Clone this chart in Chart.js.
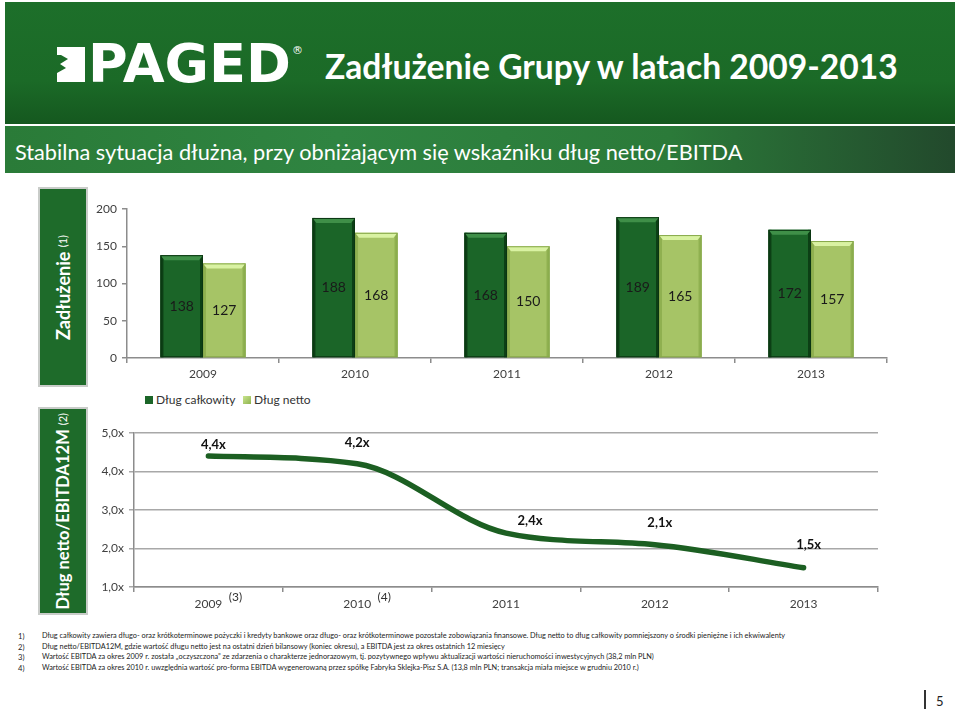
<!DOCTYPE html>
<html>
<head>
<meta charset="utf-8">
<script src="https://cdn.jsdelivr.net/npm/chart.js@4.4.0/dist/chart.umd.min.js"></script>
<style>
  body { margin:0; width:960px; height:711px; position:relative; background:#fff; overflow:hidden; font-family:Lato, "Open Sans", sans-serif; }
  .abs { position:absolute; white-space:nowrap; }
  #head { left:5px; top:2px; width:950px; height:122px; background:linear-gradient(180deg,#1d6f2a 0%,#1b6a27 65%,#15581f 100%); }
  #sub { left:5px; top:126px; width:950px; height:47px; background:linear-gradient(90deg,#2a7b38 0%,#2f8441 35%,#2b7a39 70%,#22492c 100%); }
  #title { left:325px; top:46px; color:#fff; font-weight:bold; font-size:31px; line-height:40px; }
  #subtitle { left:15px; top:138px; color:#fff; font-size:21px; line-height:28px; }
  #logo { left:88px; top:39px; color:#fff; font-family:"DejaVu Sans"; font-weight:bold; font-size:48px; line-height:50px; }
  .side { position:absolute; left:38px; width:46px; background:#1e6b2a; border:2px solid #c9ccc9; display:flex; align-items:center; justify-content:center; }
  .side span { writing-mode:vertical-rl; transform:rotate(180deg); color:#fff; font-weight:bold; white-space:nowrap; }
  .side small { font-size:11px; font-weight:normal; }
  .leg { top:392px; font-size:12px; color:#333; line-height:16px; }
  .leg i { display:inline-block; width:8px; height:8px; margin-right:3px; vertical-align:0; }
  .note { font-size:7.6px; color:#222; line-height:10.6px; }
  canvas { position:absolute; }
</style>
</head>
<body>
<div id="head" class="abs"></div>
<div id="sub" class="abs"></div>
<svg class="abs" style="left:57px;top:47px" width="29" height="35">
  <polygon points="0,0 28,0 28,35 0,35 0,26 9,21 3,17 11,12 4,8 0,8" fill="#fff"/>
</svg>
<div id="logo" class="abs" data-w="203">PAGED</div>
<div class="abs" style="left:292px;top:44px;color:#fff;font-size:11px;font-family:'DejaVu Sans'">®</div>
<div id="title" class="abs" data-w="573">Zadłużenie Grupy w latach 2009-2013</div>
<div id="subtitle" class="abs" data-w="728">Stabilna sytuacja dłużna, przy obniżającym się wskaźniku dług netto/EBITDA</div>

<div class="side" style="top:187px;height:196px"><span style="font-size:18px">Zadłużenie <small>(1)</small></span></div>
<div class="side" style="top:407px;height:204px"><span style="font-size:16.5px">Dług netto/EBITDA12M <small>(2)</small></span></div>

<canvas id="bars" width="840" height="190" style="left:60px;top:195px"></canvas>
<div class="abs leg" style="left:145px"><i style="background:#1b6528"></i>Dług całkowity</div>
<div class="abs leg" style="left:243px"><i style="background:linear-gradient(135deg,#c9e58e,#8fb34f)"></i>Dług netto</div>
<canvas id="ratio" width="840" height="200" style="left:60px;top:415px"></canvas>

<div class="abs note" style="left:18px;top:631px">1)<br>2)<br>3)<br>4)</div>
<div id="notes" class="abs note" style="left:42px;top:631px">
  <div id="note1">Dług całkowity zawiera długo- oraz krótkoterminowe pożyczki i kredyty bankowe oraz długo- oraz krótkoterminowe pozostałe zobowiązania finansowe. Dług netto to dług całkowity pomniejszony o środki pieniężne i ich ekwiwalenty</div>
  <div>Dług netto/EBITDA12M, gdzie wartość długu netto jest na ostatni dzień bilansowy (koniec okresu), a EBITDA jest za okres ostatnich 12 miesięcy</div>
  <div>Wartość EBITDA za okres 2009 r. została „oczyszczona” ze zdarzenia o charakterze jednorazowym, tj. pozytywnego wpływu aktualizacji wartości nieruchomości inwestycyjnych (38,2 mln PLN)</div>
  <div>Wartość EBITDA za okres 2010 r. uwzględnia wartość pro-forma EBITDA wygenerowaną przez spółkę Fabryka Sklejka-Pisz S.A. (13,8 mln PLN; transakcja miała miejsce w grudniu 2010 r.)</div>
</div>
<div class="abs" style="left:924px;top:690px;width:2px;height:19px;background:#333"></div>
<div class="abs" style="left:936px;top:693px;font-size:13px;color:#222">5</div>

<script>
const years = ['2009', '2010', '2011', '2012', '2013']
const totalDebt = [138, 188, 168, 189, 172]
const netDebt = [127, 168, 150, 165, 157]
const debtTicks = [0, 50, 100, 150, 200]
const ratio = [4.4, 4.2, 2.4, 2.1, 1.5]
const ratioTicks = [1, 2, 3, 4, 5]
const yearNotes = ['(3)', '(4)', '', '', '']

// label nudges for the ratio values, in px
const ratioLabelNudge = [[5, -11], [0, -21], [24, -12], [5, -22], [5, -23]]

// shrink/grow text so it spans the same width as on the slide
function fitWidth(el, w) {
  el.style.display = 'inline-block'
  const cur = el.getBoundingClientRect().width
  const fs = parseFloat(getComputedStyle(el).fontSize)
  return fs * w / cur
}
document.querySelectorAll('[data-w]').forEach(el => {
  el.style.fontSize = fitWidth(el, +el.dataset.w) + 'px'
})
const n1 = document.getElementById('note1')
document.getElementById('notes').style.fontSize = fitWidth(n1, 743) + 'px'
n1.style.display = 'block'

const tickFont = { family: 'Lato', size: 12 }
const axisGray = '#8c8c8c'

const bevel = {
  id: 'bevel',
  afterDatasetsDraw(chart) {
    const ctx = chart.ctx
    const looks = [
      { top: '#3f8f48', side: '#0c3f15', edge: '#0a3511' },
      { top: '#d9f2a2', side: '#8fb050', edge: '#86a84a' }
    ]
    chart.data.datasets.forEach((ds, di) => {
      const lk = looks[di]
      chart.getDatasetMeta(di).data.forEach(bar => {
        const l = bar.x - bar.width / 2, r = bar.x + bar.width / 2
        const t = bar.y, b = bar.base
        ctx.save()
        ctx.fillStyle = lk.side
        ctx.fillRect(l, t, 3, b - t)
        ctx.fillRect(r - 3, t, 3, b - t)
        ctx.fillStyle = lk.top
        ctx.beginPath()
        ctx.moveTo(l, t); ctx.lineTo(r, t); ctx.lineTo(r - 4, t + 5); ctx.lineTo(l + 4, t + 5)
        ctx.closePath(); ctx.fill()
        ctx.strokeStyle = lk.edge; ctx.lineWidth = 1
        ctx.strokeRect(l + 0.5, t + 0.5, r - l - 1, b - t - 1)
        ctx.restore()
      })
    })
    ctx.save()
    ctx.fillStyle = '#1a1a1a'
    ctx.font = '14px Lato'
    ctx.textAlign = 'center'; ctx.textBaseline = 'middle'
    chart.data.datasets.forEach((ds, di) => {
      chart.getDatasetMeta(di).data.forEach((bar, i) => {
        ctx.fillText(String(ds.data[i]), bar.x, (bar.y + bar.base) / 2)
      })
    })
    ctx.restore()
  }
}

new Chart(document.getElementById('bars'), {
  type: 'bar',
  data: {
    labels: years,
    datasets: [
      { label: 'Dług całkowity', data: totalDebt, backgroundColor: '#1b6528' },
      { label: 'Dług netto', data: netDebt, backgroundColor: '#a6c466' }
    ]
  },
  options: {
    responsive: false,
    animation: false,
    events: [],
    layout: { padding: { top: 14, right: 13 } },
    datasets: { bar: { barPercentage: 1, categoryPercentage: 0.56 } },
    plugins: { legend: { display: false }, tooltip: { enabled: false } },
    scales: {
      x: {
        grid: { offset: true, drawOnChartArea: false, tickLength: 5, color: axisGray, lineWidth: 1.5 },
        border: { color: axisGray, width: 1.5 },
        ticks: { font: tickFont, color: '#404040', padding: 4 },
        afterFit(s) { s.height = 27 }
      },
      y: {
        min: 0, max: 200,
        afterBuildTicks(s) { s.ticks = debtTicks.map(v => ({ value: v })) },
        grid: { drawOnChartArea: false, tickLength: 5, color: axisGray, lineWidth: 1.5 },
        border: { color: axisGray, width: 1.5 },
        ticks: { font: tickFont, color: '#404040', padding: 5 },
        afterFit(s) { s.width = 67 }
      }
    }
  },
  plugins: [bevel]
})

const ratioLabels = {
  id: 'ratioLabels',
  afterDatasetsDraw(chart) {
    const ctx = chart.ctx
    ctx.save()
    ctx.fillStyle = '#111'
    ctx.font = 'bold 13px Lato'
    ctx.textAlign = 'center'; ctx.textBaseline = 'middle'
    chart.getDatasetMeta(0).data.forEach((pt, i) => {
      const [dx, dy] = ratioLabelNudge[i]
      ctx.fillText(ratio[i].toFixed(1).replace('.', ',') + 'x', pt.x + dx, pt.y + dy)
    })
    // footnote marks next to the year labels
    ctx.font = '12px Lato'
    ctx.fillStyle = '#333'
    const xs = chart.scales.x
    yearNotes.forEach((m, i) => {
      if (m) ctx.fillText(m, xs.getPixelForValue(i) + 27, xs.top + 10)
    })
    ctx.restore()
  }
}

new Chart(document.getElementById('ratio'), {
  type: 'line',
  data: {
    labels: years,
    datasets: [{
      label: 'Dług netto/EBITDA12M',
      data: ratio,
      borderColor: '#1c5f22',
      borderWidth: 5.5,
      borderCapStyle: 'round',
      cubicInterpolationMode: 'monotone',
      pointRadius: 0
    }]
  },
  options: {
    responsive: false,
    animation: false,
    events: [],
    layout: { padding: { top: 18, right: 22 } },
    plugins: { legend: { display: false }, tooltip: { enabled: false } },
    scales: {
      x: {
        offset: true,
        grid: { offset: true, drawOnChartArea: false, tickLength: 5, color: axisGray, lineWidth: 1.5 },
        border: { color: axisGray, width: 1.5 },
        ticks: { font: tickFont, color: '#404040', padding: 5 },
        afterFit(s) { s.height = 28 }
      },
      y: {
        min: 1, max: 5,
        afterBuildTicks(s) { s.ticks = ratioTicks.map(v => ({ value: v })) },
        grid: { tickLength: 5, color: '#a8a8a8', lineWidth: 1.5 },
        border: { color: axisGray, width: 1.5 },
        ticks: { font: tickFont, color: '#404040', padding: 5, callback: v => v.toFixed(1).replace('.', ',') + 'x' },
        afterFit(s) { s.width = 74 }
      }
    }
  },
  plugins: [ratioLabels]
})
</script>
</body>
</html>
